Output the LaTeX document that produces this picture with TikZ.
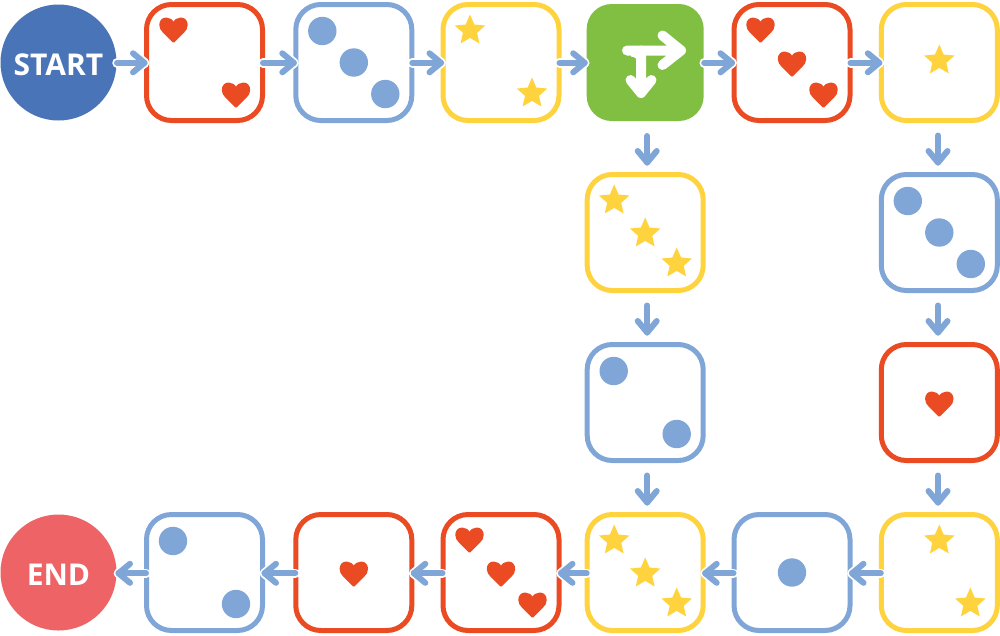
\documentclass[tikz,border=0pt]{standalone}
\usepackage{fontspec}
\setmainfont{Open Sans}
\usetikzlibrary{calc}
\definecolor{cred}{HTML}{EA4B22}
\definecolor{cblue}{HTML}{80A6D8}
\definecolor{cyellow}{HTML}{FFD33D}
\definecolor{cgreen}{HTML}{80BF42}
\definecolor{cstart}{HTML}{4A74B8}
\definecolor{cend}{HTML}{EE6466}
\tikzset{
  cell/.style={draw=#1,line width=5pt,rounded corners=25pt,minimum size=116pt,outer sep=0pt,inner sep=0pt,fill=white},
  redcell/.style={cell=cred},
  bluecell/.style={cell=cblue},
  yellowcell/.style={cell=cyellow},
  splitcell/.style={fill=cgreen,rounded corners=25pt,minimum size=117pt,outer sep=0pt,inner sep=0pt},
  endpoint/.style={circle,fill=#1,text=white,minimum size=116pt,outer sep=0pt,inner sep=0pt,text height=26.6pt,text depth=0pt,font=\fontsize{30}{30}\selectfont\bfseries},
  halo/.style={white,line width=9.5pt,line cap=round,line join=round},
  flow/.style={cblue,line width=6pt,line cap=round,line join=round},
  turn/.style={white,line width=10pt,line cap=round,line join=round},
  pics/heartpip/.style={code={\filldraw[cred,line width=2pt,line join=round,shift={(0,-2)}]
    (0,-5) .. controls (1.6,-8.2) and (4.2,-10) .. (7.4,-10)
    .. controls (11,-10) and (13.2,-7.2) .. (13.2,-3.6)
    .. controls (13.2,-0.6) and (11.8,1.4) .. (10,3.2)
    -- (0,13.2) -- (-10,3.2)
    .. controls (-11.8,1.4) and (-13.2,-0.6) .. (-13.2,-3.6)
    .. controls (-13.2,-7.2) and (-11,-10) .. (-7.4,-10)
    .. controls (-4.2,-10) and (-1.6,-8.2) .. (0,-5) -- cycle;}},
  pics/starpip/.style={code={\fill[cyellow]
    (90:-16) -- (54:-7.4) -- (18:-16) -- (-18:-7.4) -- (-54:-16) -- (-90:-7.4)
    -- (-126:-16) -- (-162:-7.4) -- (162:-16) -- (126:-7.4) -- cycle;}},
  pics/dotpip/.style={code={\fill[cblue] (0,0) circle[radius=14.2pt];}},
}
\newcommand{\headpath}[3]{\draw[#3,shift={#1},rotate=#2] (-11.5,-9.5) -- (0,0) -- (-11.5,9.5);}
\newcommand{\conn}[3]{%
  \draw[halo] #1 -- #2; \headpath{#2}{#3}{halo}
  \draw[flow] #1 -- #2; \headpath{#2}{#3}{flow}}
\begin{document}
\begin{tikzpicture}[x=1pt,y=-1pt]
\useasboundingbox (0,0) rectangle (1000,635);
\node[endpoint=cstart] (start) at (58.5,62.5) {START};
\node[redcell] (a1) at (204.5,62.5) {};
\node[bluecell] (a2) at (353.8,62.5) {};
\node[yellowcell] (a3) at (501,62.5) {};
\node[splitcell] (split) at (645.2,62.5) {};
\node[redcell] (a5) at (792,62.5) {};
\node[yellowcell] (a6) at (939.3,62.5) {};
\node[yellowcell] (b1) at (645.2,232.5) {};
\node[bluecell] (b2) at (645.2,402.5) {};
\node[bluecell] (c1) at (939.3,232.5) {};
\node[redcell] (c2) at (939.3,402.5) {};
\node[yellowcell] (d6) at (939.3,572.5) {};
\node[bluecell] (d5) at (792,572.5) {};
\node[yellowcell] (d4) at (645.2,572.5) {};
\node[redcell] (d3) at (501,572.5) {};
\node[redcell] (d2) at (353.8,572.5) {};
\node[bluecell] (d1) at (204.5,572.5) {};
\node[endpoint=cend] (end) at (58.5,572.5) {END};
% horizontal connectors
\foreach \p/\q in {start/a1,a1/a2,a2/a3,a3/split,split/a5,a5/a6}{
  \conn{($(\p.east)+(0.5,0.3)$)}{($(\q.west)+(-2,0.3)$)}{0}
}
\foreach \p/\q in {d6/d5,d5/d4,d4/d3,d3/d2,d2/d1,d1/end}{
  \conn{($(\p.west)+(-0.5,0.8)$)}{($(\q.east)+(2,0.8)$)}{180}
}
% vertical connectors
\foreach \p/\q/\dx in {split/b1/2,b1/b2/2,b2/d4/2,a6/c1/-1.3,c1/c2/-1.3,c2/d6/-1.3}{
  \draw[flow] ($(\p.south)+(\dx,15)$) -- ($(\q.north)+(\dx,-12)$);
  \headpath{($(\q.north)+(\dx,-12)$)}{-90}{flow}
}
% split icon
\draw[turn] (627,50.5) -- (681,50.5) (662.5,35.5) -- (681,50.5) -- (662.5,65);
\draw[turn] (630.5,80) -- (641,93) -- (651.5,80) (641,93) -- (641,50.5);
\fill[white] (631,52) -- (637,52) -- (637,62) .. controls (637,58.5) and (635,57) .. (631,56.5) -- cycle;
% pips
\pic at ($(a1)+(-31,-32)$) {heartpip};
\pic at ($(a1)+(31.5,33)$) {heartpip};
\pic at ($(a2)+(-31.5,-31.5)$) {dotpip};
\pic at ($(a2)$) {dotpip};
\pic at ($(a2)+(31.5,31.5)$) {dotpip};
\pic at ($(a3)+(-31,-32)$) {starpip};
\pic at ($(a3)+(31,31)$) {starpip};
\pic at ($(a5)+(-31.5,-32)$) {heartpip};
\pic at ($(a5)+(0,2)$) {heartpip};
\pic at ($(a5)+(31.5,33)$) {heartpip};
\pic at ($(a6)+(0,-2)$) {starpip};
\pic at ($(b1)+(-31,-32)$) {starpip};
\pic at ($(b1)+(0,1)$) {starpip};
\pic at ($(b1)+(31.5,31)$) {starpip};
\pic at ($(b2)+(-31.5,-31.5)$) {dotpip};
\pic at ($(b2)+(31.5,31.5)$) {dotpip};
\pic at ($(c1)+(-31.5,-31.5)$) {dotpip};
\pic at ($(c1)$) {dotpip};
\pic at ($(c1)+(31.5,31.5)$) {dotpip};
\pic at ($(c2)+(0,2)$) {heartpip};
\pic at ($(d6)+(0,-32)$) {starpip};
\pic at ($(d6)+(31,31)$) {starpip};
\pic at ($(d5)$) {dotpip};
\pic at ($(d4)+(-31,-32)$) {starpip};
\pic at ($(d4)+(0,1)$) {starpip};
\pic at ($(d4)+(31.5,31)$) {starpip};
\pic at ($(d3)+(-31.5,-32)$) {heartpip};
\pic at ($(d3)+(0,2)$) {heartpip};
\pic at ($(d3)+(31.5,33)$) {heartpip};
\pic at ($(d2)+(0,2)$) {heartpip};
\pic at ($(d1)+(-31.5,-31.5)$) {dotpip};
\pic at ($(d1)+(31.5,31.5)$) {dotpip};
\end{tikzpicture}
\end{document}
